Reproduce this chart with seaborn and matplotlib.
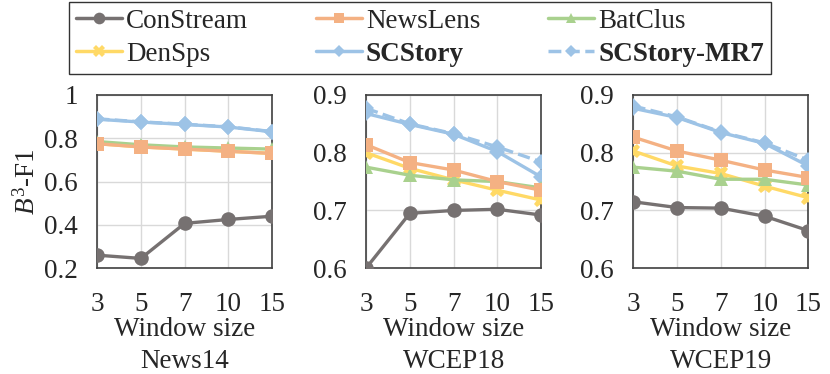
import numpy as np
import pandas as pd
import seaborn as sns
import matplotlib
matplotlib.use("Agg")
import matplotlib.pyplot as plt
from matplotlib.lines import Line2D

# window sizes on the x axis
windows = ["3", "5", "7", "10", "15"]
datasets = ["News14", "WCEP18", "WCEP19"]
methods = ["ConStream", "NewsLens", "BatClus", "DenSps", "SCStory", "SCStory-MR7"]

# B3-F1 per method, one list per dataset
constream = [[0.26, 0.245, 0.407, 0.425, 0.44],
             [0.60, 0.695, 0.70, 0.702, 0.692],
             [0.715, 0.705, 0.704, 0.69, 0.665]]
newslens = [[0.775, 0.76, 0.75, 0.74, 0.73],
            [0.814, 0.783, 0.77, 0.75, 0.735],
            [0.827, 0.803, 0.787, 0.77, 0.757]]
batclus = [[0.785, 0.77, 0.76, 0.755, 0.75],
           [0.775, 0.761, 0.753, 0.75, 0.739],
           [0.775, 0.768, 0.754, 0.754, 0.744]]
densps = [[0.775, 0.76, 0.75, 0.74, 0.73],
          [0.80, 0.773, 0.753, 0.735, 0.718],
          [0.803, 0.777, 0.764, 0.742, 0.722]]
scstory = [[0.888, 0.875, 0.864, 0.852, 0.83],
           [0.868, 0.849, 0.832, 0.802, 0.758],
           [0.877, 0.861, 0.835, 0.816, 0.777]]
scstory_mr7 = [[0.89, 0.876, 0.865, 0.853, 0.831],
               [0.877, 0.85, 0.833, 0.81, 0.784],
               [0.881, 0.862, 0.836, 0.817, 0.787]]

ylims = [(0.2, 1.0), (0.6, 0.9), (0.6, 0.9)]
yticks = [[0.2, 0.4, 0.6, 0.8, 1.0], [0.6, 0.7, 0.8, 0.9], [0.6, 0.7, 0.8, 0.9]]
yticklabels = [["0.2", "0.4", "0.6", "0.8", "1"], ["0.6", "0.7", "0.8", "0.9"], ["0.6", "0.7", "0.8", "0.9"]]

all_vals = [constream, newslens, batclus, densps, scstory, scstory_mr7]
colors = ["#767171", "#F4B183", "#A9D18E", "#FFD966", "#9DC3E6", "#9DC3E6"]
markers = ["o", "s", "^", "X", "D", "D"]
msizes = [10.5, 9.5, 9.5, 10.5, 8, 8]
dashes = ["-", "-", "-", "-", "-", "--"]

sns.set_style("white")
plt.rcParams["font.family"] = ["Liberation Serif", "DejaVu Serif"]
plt.rcParams["mathtext.fontset"] = "custom"
plt.rcParams["mathtext.rm"] = "Liberation Serif"
plt.rcParams["mathtext.it"] = "Liberation Serif:italic"

fig = plt.figure(figsize=(8.3, 3.74), dpi=100)
lefts = [0.117, 0.441, 0.763]
fs = 19.5

for d, name in enumerate(datasets):
    ax = fig.add_axes([lefts[d], 0.283, 0.211, 0.463])
    rows = []
    for m, meth in enumerate(methods):
        for i, w in enumerate(windows):
            rows.append({"method": meth, "pos": i, "window": w, "f1": all_vals[m][d][i]})
    df = pd.DataFrame(rows)
    for m, meth in enumerate(methods):
        sub = df[df["method"] == meth]
        sns.lineplot(data=sub, x="pos", y="f1", ax=ax, color=colors[m], marker=markers[m],
                     markersize=msizes[m], markeredgewidth=0, linewidth=2.4,
                     linestyle=dashes[m], zorder=3 + (5 - m) * 0.1, clip_on=True)
    ax.set_xlim(0, len(windows) - 1)
    ax.set_ylim(*ylims[d])
    ax.set_xticks(range(len(windows)))
    ax.set_xticklabels(windows, fontsize=fs)
    ax.set_yticks(yticks[d])
    ax.set_yticklabels(yticklabels[d], fontsize=fs)
    ax.tick_params(axis="y", length=0, pad=14)
    ax.tick_params(axis="x", length=0, pad=17)
    ax.grid(True, color="#D9D9D9", linewidth=1)
    ax.set_axisbelow(True)
    for s in ax.spines.values():
        s.set_color("#404040")
        s.set_linewidth(1.2)
    ax.set_xlabel("Window size", fontsize=fs, labelpad=0)
    ax.text(0.5, -0.465, name, transform=ax.transAxes, ha="center", va="top", fontsize=fs)
    if d == 0:
        ax.set_ylabel(r"$\mathit{B}^{3}$-F1", fontsize=fs, labelpad=2)
    else:
        ax.set_ylabel("")

handles = []
for m, meth in enumerate(methods):
    handles.append(Line2D([], [], color=colors[m], marker=markers[m], markersize=msizes[m] * 0.8,
                          markeredgewidth=0, linewidth=2.5, linestyle=dashes[m]))
order = [0, 3, 1, 4, 2, 5]
leg = fig.legend([handles[i] for i in order], [methods[i] for i in order], ncol=3,
                 loc="upper center", bbox_to_anchor=(0.506, 0.995), borderaxespad=0,
                 fontsize=fs, frameon=True, fancybox=False, edgecolor="black",
                 handlelength=1.7, handletextpad=0.15, columnspacing=2.5,
                 labelspacing=0.3, borderpad=0.25)
leg.get_frame().set_linewidth(1.0)
for t in leg.get_texts():
    if t.get_text().startswith("SCStory"):
        t.set_fontweight("bold")

fig.savefig("out.png", dpi=100)
